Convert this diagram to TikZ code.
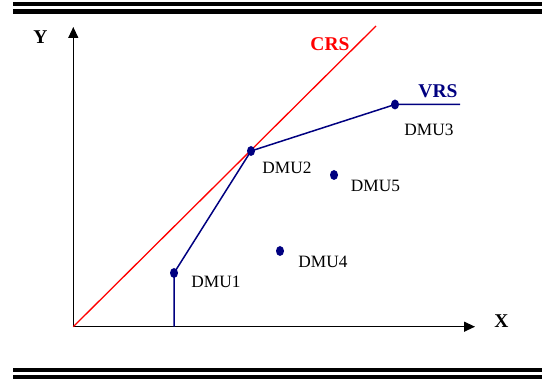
\documentclass[tikz,border=0pt]{standalone}
\usepackage{fontspec}
\setmainfont{Liberation Serif}
\usetikzlibrary{arrows.meta,shapes.geometric}
\definecolor{navy}{RGB}{0,0,128}
\begin{document}
\begin{tikzpicture}[x=1pt,y=-1pt,
  axis/.style={line width=1.3pt,-{Triangle[length=11pt,width=10pt]}},
  dmu/.style={ellipse,fill=navy,draw=none,minimum width=8pt,minimum height=10pt,inner sep=0pt},
  dlabel/.style={font=\fontsize{17.3}{20}\selectfont,inner sep=0pt},
  blabel/.style={font=\fontsize{19.5}{22}\selectfont\bfseries,inner sep=0pt},
  bar/.style={fill=black,draw=none}]
\useasboundingbox (0,0) rectangle (542,379);
% double rules
\fill[bar] (12.7,2) rectangle (542,6.3);
\fill[bar] (12.7,9.3) rectangle (542,14);
\fill[bar] (12.7,367.7) rectangle (542,372.3);
\fill[bar] (12.7,375) rectangle (542,379);
% axes
\coordinate (O) at (73.3,326.7);
\coordinate (ytip) at (73.3,27);
\coordinate (xtip) at (475,326.7);
\draw[axis] (O) -- (ytip);
\draw[axis] (O) -- (xtip);
\node[blabel] (Y) at (40.5,37) {Y};
\node[blabel] (X) at (501.5,321.5) {X};
% CRS
\coordinate (crsend) at (376,26);
\draw[red,line width=1.3pt] (O) -- (crsend);
\node[blabel,text=red] (CRS) at (330,44) {CRS};
% DMUs
\node[dmu] (d1) at (174,273) {};
\node[dmu] (d2) at (251,151) {};
\node[dmu] (d3) at (395,104.5) {};
\node[dmu] (d4) at (280,251) {};
\node[dmu] (d5) at (334,175) {};
\coordinate (vbase) at (174,326.7);
\coordinate (vend) at (460,104.5);
\draw[navy,line width=1.5pt] (vbase) -- (d1.center) -- (d2.center) -- (d3.center) -- (vend);
\node[blabel,text=navy] (VRS) at (438,91.5) {VRS};
\node[dlabel] (l1) at (216,281.5) {DMU1};
\node[dlabel] (l2) at (287,168) {DMU2};
\node[dlabel] (l3) at (429,130) {DMU3};
\node[dlabel] (l4) at (323,261.5) {DMU4};
\node[dlabel] (l5) at (375.5,186.3) {DMU5};
\end{tikzpicture}
\end{document}
